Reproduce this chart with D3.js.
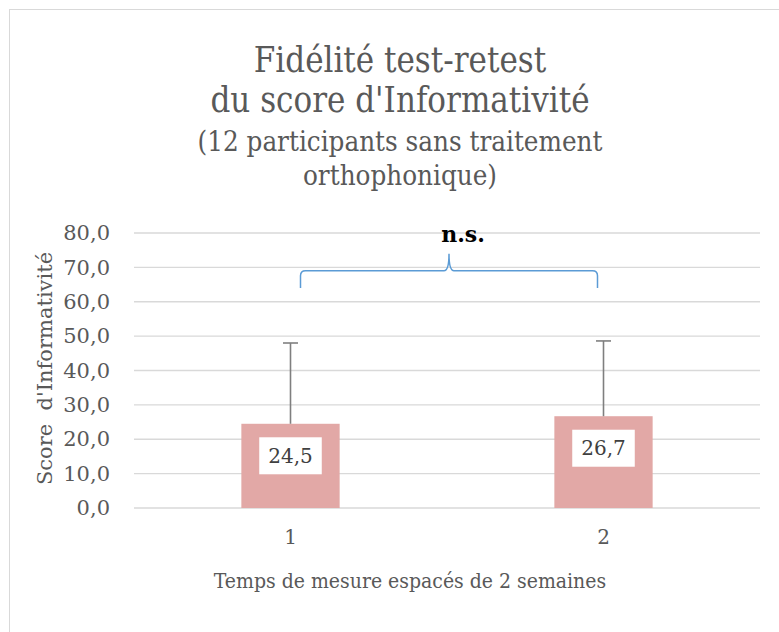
<!DOCTYPE html>
<html>
<head>
<meta charset="utf-8">
<script src="https://cdn.jsdelivr.net/npm/d3@7"></script>
<style>
  body { margin: 0; background: #fff; }
  svg text { font-family: "DejaVu Serif Condensed", "DejaVu Serif", serif; }
</style>
</head>
<body>
<div id="chart"></div>
<script>
// data
const categories = ['1', '2'];
const means = [24.5, 26.7];
const errTops = [48.0, 48.6];
const yTicks = [0, 10, 20, 30, 40, 50, 60, 70, 80];
const titleLines = ["Fidélité test-retest", "du score d'Informativité"];
const subtitleLines = ["(12 participants sans traitement", "orthophonique)"];

const width = 779, height = 632;
const margin = ({top: 233, right: 19, bottom: 124, left: 134});
const wideSerif = '"DejaVu Serif", serif';

const svg = d3.select('#chart')
  .append('svg')
    .attr('width', width)
    .attr('height', height);

// chart border
svg.append('rect')
  .attr('x', 9.5).attr('y', 9.5)
  .attr('width', width).attr('height', height)
  .attr('fill', 'none')
  .attr('stroke', '#d9d9d9');

const xScale = d3.scaleBand()
  .domain(categories)
  .range([margin.left, width - margin.right])
  .paddingInner(0.686)
  .paddingOuter(0.343);

const yScale = d3.scaleLinear()
  .domain([0, 80])
  .range([height - margin.bottom, margin.top]);

// gridlines
svg.append('g')
  .selectAll('line')
  .data(yTicks)
  .enter()
  .append('line')
    .attr('x1', margin.left)
    .attr('x2', width - margin.right)
    .attr('y1', d => yScale(d))
    .attr('y2', d => yScale(d))
    .attr('stroke', '#d9d9d9')
    .attr('stroke-width', 1.3);

// y axis labels
const yAxis = svg.append('g')
  .attr('transform', `translate(${margin.left}, 0)`)
  .call(d3.axisLeft(yScale).tickValues(yTicks).tickSize(0).tickPadding(24)
    .tickFormat(d => d3.format('.1f')(d).replace('.', ',')));
yAxis.select('.domain').remove();
yAxis.selectAll('text')
  .attr('fill', '#595959')
  .style('font-family', wideSerif)
  .style('font-size', '21px');

// x axis labels
const xAxis = svg.append('g')
  .attr('transform', `translate(0, ${yScale(0)})`)
  .call(d3.axisBottom(xScale).tickSize(0).tickPadding(22));
xAxis.select('.domain').remove();
xAxis.selectAll('text')
  .attr('fill', '#595959')
  .style('font-family', wideSerif)
  .style('font-size', '20px');

// bars
const bars = categories.map((c, i) => ({cat: c, mean: means[i], top: errTops[i]}));
const g = svg.selectAll('.bar')
  .data(bars)
  .enter()
  .append('g')
    .attr('class', 'bar');

g.append('rect')
  .attr('x', d => xScale(d.cat))
  .attr('y', d => yScale(d.mean))
  .attr('width', xScale.bandwidth())
  .attr('height', d => yScale(0) - yScale(d.mean))
  .attr('fill', '#e2a8a6');

// error bars (upper only)
const cx = d => xScale(d.cat) + xScale.bandwidth() / 2;
g.append('line')
  .attr('x1', cx).attr('x2', cx)
  .attr('y1', d => yScale(d.mean))
  .attr('y2', d => yScale(d.top))
  .attr('stroke', '#7f7f7f')
  .attr('stroke-width', 1.6);
g.append('line')
  .attr('x1', d => cx(d) - 7.5).attr('x2', d => cx(d) + 7.5)
  .attr('y1', d => yScale(d.top))
  .attr('y2', d => yScale(d.top))
  .attr('stroke', '#7f7f7f')
  .attr('stroke-width', 1.6);

// data labels in white boxes
const labelY = d => yScale(d.mean) + 32;
const lbl = g.append('text')
  .attr('x', cx)
  .attr('y', labelY)
  .attr('dy', '0.36em')
  .attr('text-anchor', 'middle')
  .attr('fill', '#404040')
  .style('font-family', wideSerif)
  .style('font-size', '20px')
  .text(d => d3.format('.1f')(d.mean).replace('.', ','));
lbl.each(function(d) {
  const bb = this.getBBox();
  d3.select(this.parentNode).insert('rect', 'text')
    .attr('x', bb.x - 9)
    .attr('y', labelY(d) - 18.5)
    .attr('width', bb.width + 18)
    .attr('height', 37)
    .attr('fill', '#fff');
});

// significance brace
const x1 = cx(bars[0]) + 10, x2 = cx(bars[1]) - 6, xm = (x1 + x2) / 2;
const yEnd = yScale(64), yMid = yScale(69), yPeak = yScale(74);
const brace = d3.path();
brace.moveTo(x1, yEnd);
brace.lineTo(x1, yMid + 5);
brace.quadraticCurveTo(x1, yMid, x1 + 5, yMid);
brace.lineTo(xm - 5, yMid);
brace.quadraticCurveTo(xm, yMid, xm, yPeak);
brace.quadraticCurveTo(xm, yMid, xm + 5, yMid);
brace.lineTo(x2 - 5, yMid);
brace.quadraticCurveTo(x2, yMid, x2, yMid + 5);
brace.lineTo(x2, yEnd);
svg.append('path')
  .attr('d', brace.toString())
  .attr('fill', 'none')
  .attr('stroke', '#5b9bd5')
  .attr('stroke-width', 1.5);

svg.append('text')
  .attr('x', xm + 14)
  .attr('y', yScale(77.3))
  .attr('text-anchor', 'middle')
  .attr('fill', '#000')
  .style('font-family', wideSerif)
  .style('font-weight', 'bold')
  .style('font-size', '22px')
  .text('n.s.');

// titles
svg.append('g').selectAll('text')
  .data(titleLines)
  .enter()
  .append('text')
    .attr('x', 400)
    .attr('y', (d, i) => 72 + i * 40)
    .attr('text-anchor', 'middle')
    .attr('fill', '#595959')
    .style('font-size', '34.5px')
    .text(d => d);
svg.append('g').selectAll('text')
  .data(subtitleLines)
  .enter()
  .append('text')
    .attr('x', 400)
    .attr('y', (d, i) => 151 + i * 34)
    .attr('text-anchor', 'middle')
    .attr('fill', '#595959')
    .style('font-size', '27.5px')
    .text(d => d);

// axis titles
svg.append('text')
  .attr('transform', `translate(52, ${yScale(40) - 2}) rotate(-90)`)
  .attr('text-anchor', 'middle')
  .attr('fill', '#595959')
  .style('font-family', wideSerif)
  .style('font-size', '21px')
  .style('white-space', 'pre')
  .text("Score  d'Informativité");

svg.append('text')
  .attr('x', 410)
  .attr('y', 588)
  .attr('text-anchor', 'middle')
  .attr('fill', '#595959')
  .style('font-size', '21px')
  .text('Temps de mesure espacés de 2 semaines');
</script>
</body>
</html>
